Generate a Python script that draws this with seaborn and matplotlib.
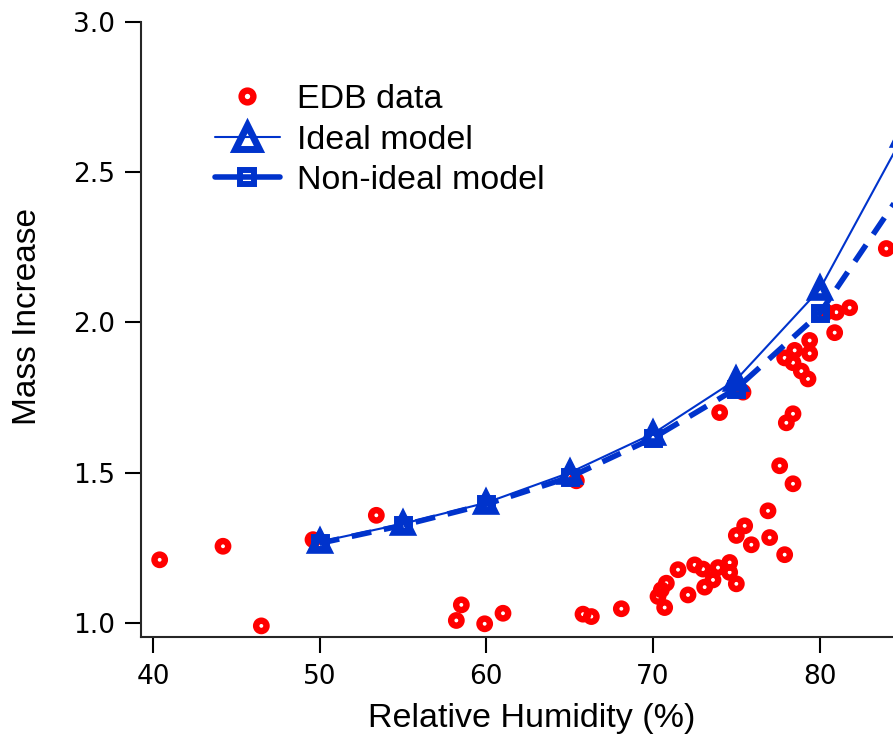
import seaborn as sns
import numpy as np
import pandas as pd
import matplotlib.pyplot as plt
from matplotlib.lines import Line2D

edb_rh = [40.4, 44.2, 46.5, 49.6, 53.4, 58.2, 58.5, 59.9, 61.0, 65.4,
          65.8, 66.3, 68.1, 70.3, 70.5, 70.8, 70.7, 71.5, 72.1, 72.5,
          73.0, 73.1, 73.6, 73.9, 74.6, 74.6, 75.0, 74.0, 75.4, 75.0,
          75.5, 75.9, 76.9, 77.0, 77.9, 77.6, 78.4, 78.0, 78.4, 77.9,
          78.5, 78.4, 78.9, 79.3, 79.4, 79.4, 80.4, 80.9, 81.0, 81.8, 84.0]
edb_mass = [1.21, 1.255, 0.99, 1.277, 1.358, 1.008, 1.06, 0.997, 1.032, 1.473,
            1.029, 1.021, 1.047, 1.088, 1.11, 1.132, 1.051, 1.177, 1.093, 1.193,
            1.179, 1.119, 1.143, 1.184, 1.201, 1.168, 1.13, 1.70, 1.768, 1.291,
            1.323, 1.26, 1.373, 1.284, 1.227, 1.523, 1.463, 1.666, 1.696, 1.882,
            1.907, 1.866, 1.838, 1.812, 1.94, 1.897, 2.034, 1.966, 2.034, 2.049, 2.246]

# model curves
model_rh = [50, 55, 60, 65, 70, 75, 80, 85]
ideal = [1.27, 1.33, 1.40, 1.50, 1.63, 1.81, 2.11, 2.62]
nonideal = [1.265, 1.325, 1.395, 1.485, 1.615, 1.78, 2.03, 2.44]

red = "#ff0000"
blue = "#0033cc"

sns.set_style("ticks")
plt.rcParams['font.family'] = ['Liberation Sans', 'DejaVu Sans']
plt.rcParams['text.color'] = 'black'
plt.rcParams['axes.labelcolor'] = 'black'
plt.rcParams['xtick.color'] = 'black'
plt.rcParams['ytick.color'] = 'black'

fig = plt.figure(figsize=(8.93, 7.37), dpi=100)
ax = fig.add_axes([141/893, 1-637/737, 752/893, 615/737])

edb = pd.DataFrame({"rh": edb_rh, "mass": edb_mass})
models = pd.DataFrame({"rh": model_rh, "ideal": ideal, "nonideal": nonideal})

sns.scatterplot(data=edb, x="rh", y="mass", ax=ax, marker="o", s=56,
                facecolor="none", edgecolor=red, linewidth=4.6, zorder=2)
sns.lineplot(data=models, x="rh", y="nonideal", ax=ax, color=blue, lw=4,
             linestyle=(0, (3.6, 2.3)), marker="s", ms=8, mfc="none",
             mec=blue, mew=5, zorder=3)
sns.lineplot(data=models, x="rh", y="ideal", ax=ax, color=blue, lw=1.5,
             marker="^", ms=11, mfc="none", mec=blue, mew=5.5, zorder=4)

ax.set_xlim(39.28, 84.4)
ax.set_ylim(0.953, 3.0)
ax.set_xticks([40, 50, 60, 70, 80])
ax.set_yticks([1.0, 1.5, 2.0, 2.5, 3.0])
ax.set_yticklabels(["1.0", "1.5", "2.0", "2.5", "3.0"])

sns.despine(ax=ax)
for s in ["left", "bottom"]:
    ax.spines[s].set_linewidth(1.5)
ax.tick_params(axis="both", length=11.5, width=1.5, color="black",
               labelsize=19, labelfontfamily="DejaVu Sans")
ax.tick_params(axis="y", pad=7)
ax.tick_params(axis="x", pad=8)

ax.set_xlabel("Relative Humidity (%)", fontsize=24.5)
ax.set_ylabel("Mass Increase", fontsize=24)
ax.xaxis.set_label_coords(0.519, -0.108)
ax.yaxis.set_label_coords(-0.13, 0.521)

handles = [
    Line2D([], [], ls="none", marker="o", ms=8.5, mfc="none", mec=red, mew=4.6),
    Line2D([], [], color=blue, lw=1.5, marker="^", ms=17, mfc="none", mec=blue, mew=5),
    Line2D([], [], color=blue, lw=4, marker="s", ms=10, mfc="none", mec=blue, mew=4.3),
]
ax.legend(handles, ["EDB data", "Ideal model", "Non-ideal model"],
          loc="upper left", bbox_to_anchor=(215/893, 1-84/737),
          bbox_transform=fig.transFigure, frameon=False, fontsize=24.5,
          handlelength=1.9, handletextpad=0.5, labelspacing=0.28,
          borderpad=0, borderaxespad=0)

fig.savefig("out.png", dpi=100)
